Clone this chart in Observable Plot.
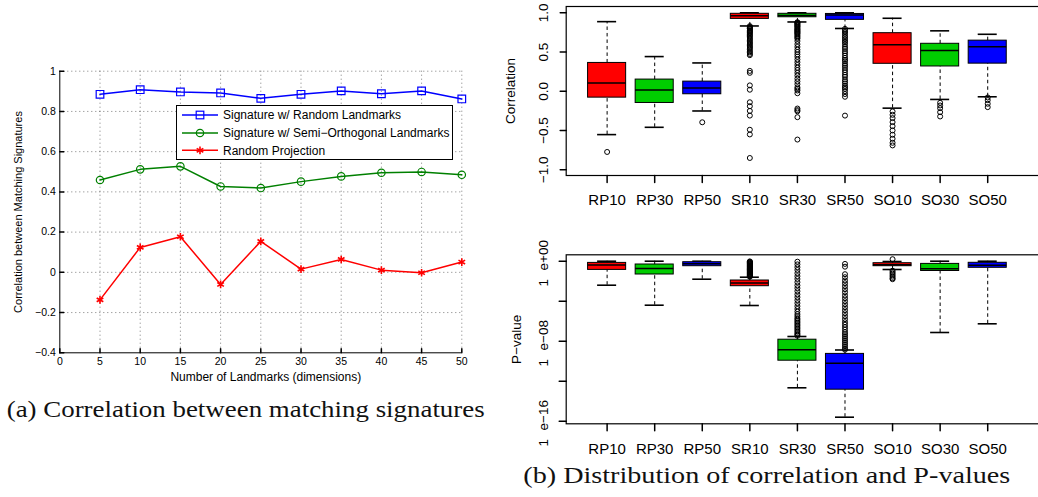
<!DOCTYPE html>
<html><head><meta charset="utf-8">
<script src="https://cdn.jsdelivr.net/npm/d3@7"></script>
<script src="https://cdn.jsdelivr.net/npm/@observablehq/plot@0.6"></script>
<style>
body{margin:0;background:#fff;}
#wrap{position:relative;width:1038px;height:497px;overflow:hidden;background:#fff;font-family:"Liberation Sans",Arial,sans-serif;}
#wrap svg{position:absolute;}
.lg{position:absolute;left:176px;top:104.7px;width:277px;height:55.3px;box-sizing:border-box;border:1.6px solid #000;background:#fff;}
</style></head><body><div id="wrap"></div>
<script>
// ---------- Panel (a) data ----------
const dims = [5, 10, 15, 20, 25, 30, 35, 40, 45, 50];
const sigRandom = [0.885, 0.908, 0.897, 0.892, 0.865, 0.885, 0.902, 0.888, 0.902, 0.862];
const sigSemiOrth = [0.459, 0.512, 0.527, 0.427, 0.419, 0.451, 0.477, 0.495, 0.499, 0.485];
const randomProj = [-0.137, 0.124, 0.177, -0.06, 0.154, 0.016, 0.064, 0.011, -0.002, 0.051];
const seriesNames = ["Signature w/ Random Landmarks", "Signature w/ Semi\u2212Orthogonal Landmarks", "Random Projection"];
const xTicksA = [0, 5, 10, 15, 20, 25, 30, 35, 40, 45, 50];
const yTicksA = [-0.4, -0.2, 0, 0.2, 0.4, 0.6, 0.8, 1];

// ---------- Panel (b) data ----------
const cats = ["RP10", "RP30", "RP50", "SR10", "SR30", "SR50", "SO10", "SO30", "SO50"];
const boxColors = ["#ff0000", "#00cd00", "#0000ff", "#ff0000", "#00cd00", "#0000ff", "#ff0000", "#00cd00", "#0000ff"];
// correlation box stats
const corrLo  = [-0.552, -0.459, -0.251, 0.832, 0.883, 0.80, -0.215, -0.104, -0.07];
const corrQ1  = [-0.081, -0.149, -0.038, 0.922, 0.943, 0.91, 0.35, 0.316, 0.352];
const corrMed = [0.106, 0.017, 0.042, 0.962, 0.966, 0.972, 0.592, 0.52, 0.566];
const corrQ3  = [0.361, 0.149, 0.123, 0.987, 0.987, 0.985, 0.74, 0.605, 0.645];
const corrHi  = [0.887, 0.442, 0.361, 1.0, 1.0, 1.0, 0.93, 0.77, 0.726];
const corrOut = [
  [-0.773],
  [],
  [-0.395],
  [0.83,0.82,0.81,0.80,0.795,0.78,0.77,0.76,0.75,0.74,0.725,0.71,0.70,0.68,0.665,0.65,0.63,0.615,0.60,0.58,0.565,0.55,0.53,0.51,0.495,0.475,0.46,0.26,0.235,0.075,0.02,-0.14,-0.19,-0.25,-0.31,-0.49,-0.55,-0.85],
  [0.88,0.875,0.865,0.855,0.845,0.835,0.825,0.815,0.80,0.79,0.78,0.77,0.76,0.75,0.74,0.73,0.715,0.70,0.685,0.67,0.64,0.60,0.565,0.53,0.50,0.47,0.44,0.405,0.37,0.335,0.30,0.27,0.235,0.20,0.16,0.125,0.09,0.05,0.03,0.01,-0.025,-0.22,-0.24,-0.255,-0.33,-0.615],
  [0.795,0.775,0.755,0.735,0.71,0.69,0.665,0.64,0.62,0.595,0.565,0.54,0.51,0.485,0.455,0.425,0.40,0.38,0.35,0.325,0.30,0.27,0.24,0.21,0.185,0.15,0.125,0.10,0.07,0.05,0.03,0.0,-0.035,-0.07,-0.31],
  [-0.257,-0.30,-0.342,-0.393,-0.444,-0.499,-0.554,-0.605,-0.656,-0.69],
  [-0.147,-0.181,-0.215,-0.266,-0.321],
  [-0.079,-0.113,-0.159,-0.202]
];
const corrTicks = [-1, -0.5, 0, 0.5, 1];
const corrTickLabels = ["\u22121.0", "\u22120.5", "0.0", "0.5", "1.0"];
// p-value box stats (log10 p)
const pLo  = [-2.4, -4.4, -1.8, -4.43, -12.66, -15.6, -0.83, -7.13, -6.26];
const pQ1  = [-0.87, -1.33, -0.5, -2.5, -9.95, -12.85, -0.5, -0.98, -0.66];
const pMed = [-0.37, -0.73, -0.25, -2.17, -8.86, -10.2, -0.35, -0.75, -0.4];
const pQ3  = [-0.17, -0.33, -0.1, -1.93, -7.85, -9.27, -0.2, -0.27, -0.16];
const pHi  = [0, 0, 0, -1.6, -7.53, -8.88, -0.03, 0, 0];
const pOut = [
  [], [], [],
  [-0.02,-0.06,-0.11,-0.15,-0.2,-0.25,-0.29,-0.34,-0.39,-0.43,-0.48,-0.53,-0.57,-0.62,-0.67,-0.71,-0.76,-0.81,-0.85,-0.9,-0.95,-0.99,-1.04,-1.09,-1.13,-1.18,-1.23,-1.27,-1.32,-1.37,-1.41,-1.46,-1.51,-1.55],
  [-0.05,-0.32,-0.6,-0.88,-1.2,-1.5,-1.78,-2.1,-2.42,-2.7,-3.0,-3.32,-3.6,-3.9,-4.2,-4.5,-4.78,-5.05,-5.3,-5.5,-5.7,-5.85,-6.0,-6.15,-6.3,-6.45,-6.6,-6.75,-6.9,-7.05,-7.2,-7.33,-7.45],
  [-0.27,-0.55,-1.3,-1.6,-1.92,-2.2,-2.5,-2.8,-3.1,-3.42,-3.7,-4.0,-4.3,-4.6,-4.9,-5.2,-5.5,-5.8,-6.1,-6.35,-6.6,-6.85,-7.1,-7.3,-7.5,-7.7,-7.9,-8.1,-8.3,-8.5,-8.7,-8.85],
  [0.2,-0.95,-1.1,-1.25,-1.4,-1.55,-1.7,-1.8],
  [], []
];
const pTicks = [0, -4, -8, -12, -16];
const pLabelTicks = [0, -8, -16];
const pLabelExp = ["e+00", "e\u221208", "e\u221216"];
const pLabelMant = ["1", "1", "1"];

const captionA = "(a) Correlation between matching signatures";
const captionB = "(b) Distribution of correlation and P-values";

const wrap = document.getElementById("wrap");
function place(el, left, top) { el.style.left = left + "px"; el.style.top = top + "px"; wrap.appendChild(el); }
const FONT = "Liberation Sans, Arial, Helvetica, sans-serif";
// plain line tick shape for vectors (no arrow head)
const tickShape = {draw(context, l) { context.moveTo(0, 0); context.lineTo(0, -l); }};

// ---------- Panel (a) ----------
const gridStyle = {stroke: "#000", strokeOpacity: 0.65, strokeWidth: 0.8, strokeDasharray: "1,3"};
const plotA = Plot.plot({
  width: 480, height: 400,
  marginLeft: 59.3, marginRight: 18.7, marginTop: 70.7, marginBottom: 47.7,
  x: {domain: [0, 50], axis: null},
  y: {domain: [-0.4, 1], axis: null},
  style: {fontFamily: FONT, background: "transparent", overflow: "visible", maxWidth: "none"},
  marks: [
    Plot.gridX(xTicksA.filter(t => t > 0), gridStyle),
    Plot.gridY(yTicksA.filter(t => t > -0.4), gridStyle),
    Plot.line(dims, {x: dims, y: sigRandom, stroke: "#0000ff", strokeWidth: 1.5}),
    Plot.line(dims, {x: dims, y: sigSemiOrth, stroke: "#008000", strokeWidth: 1.5}),
    Plot.line(dims, {x: dims, y: randomProj, stroke: "#ff0000", strokeWidth: 1.5}),
    Plot.dot(dims, {x: dims, y: sigRandom, symbol: "square", r: 4.3, stroke: "#0000ff", fill: "none", strokeWidth: 1.2}),
    Plot.dot(dims, {x: dims, y: sigSemiOrth, symbol: "circle", r: 3.7, stroke: "#008000", fill: "none", strokeWidth: 1.2}),
    Plot.dot(dims, {x: dims, y: randomProj, symbol: "asterisk", r: 3.6, stroke: "#ff0000", strokeWidth: 1.6}),
    Plot.ruleX([0], {stroke: "#000", strokeWidth: 1}),
    Plot.ruleY([-0.4], {stroke: "#000", strokeWidth: 1}),
    Plot.vector(yTicksA, {y: d => d, frameAnchor: "left", rotate: 90, length: 4, anchor: "start", shape: tickShape, stroke: "#000"}),
    Plot.vector(xTicksA, {x: d => d, frameAnchor: "bottom", rotate: 0, length: 4, anchor: "start", shape: tickShape, stroke: "#000"}),
    Plot.axisY({ticks: yTicksA, tickSize: 0, tickPadding: 4, label: null, fontSize: 10.5, tickFormat: d => d === 0 ? "0" : d3.format("")(d).replace("-", "\u2212")}),
    Plot.axisX({ticks: xTicksA, tickSize: 0, tickPadding: 4.5, label: null, fontSize: 10.5}),
    Plot.text(["Correlation between Matching Signatures"], {text: d => d, frameAnchor: "left", textAnchor: "middle", lineAnchor: "middle", dx: -41, rotate: -90, fontSize: 11}),
    Plot.text(["Number of Landmarks (dimensions)"], {text: d => d, frameAnchor: "bottom", textAnchor: "middle", lineAnchor: "middle", dy: 24.5, dx: 5, fontSize: 12})
  ]
});
place(plotA, 0, 0);

// legend
const lg = document.createElement("div");
lg.className = "lg";
const ls = d3.select(lg).append("svg").attr("width", 277).attr("height", 55).style("position", "absolute").style("left", "-1.6px").style("top", "-1.6px").style("overflow", "visible");
const lgColors = ["#0000ff", "#008000", "#ff0000"];
const lgY = [11, 29, 46.3];
seriesNames.forEach((name, i) => {
  const g = ls.append("g").attr("transform", `translate(0,${lgY[i]})`);
  g.append("line").attr("x1", 7).attr("x2", 43).attr("stroke", lgColors[i]).attr("stroke-width", 1.5);
  if (i === 0) g.append("rect").attr("x", 21.2).attr("y", -3.8).attr("width", 7.6).attr("height", 7.6).attr("fill", "none").attr("stroke", lgColors[i]).attr("stroke-width", 1.2);
  if (i === 1) g.append("circle").attr("cx", 25).attr("r", 3.7).attr("fill", "none").attr("stroke", lgColors[i]).attr("stroke-width", 1.2);
  if (i === 2) g.append("path").attr("transform", "translate(25,0)").attr("d", d3.symbol(d3.symbolAsterisk, Math.PI * 3.6 * 3.6)()).attr("fill", "none").attr("stroke", lgColors[i]).attr("stroke-width", 1.6);
  g.append("text").attr("x", 48).attr("dy", "0.35em").attr("font-size", 12).attr("font-family", FONT).text(name);
});
wrap.appendChild(lg);

// ---------- Panel (b) helpers ----------
const idx = d3.range(cats.length);
const pos = idx.map(i => i + 1);
function boxMarks(lo, q1, med, q3, hi, out) {
  const outs = out.flatMap((arr, i) => arr.map(v => ({p: pos[i], v})));
  const dash = {stroke: "#000", strokeWidth: 1, strokeDasharray: "3.5,3"};
  return [
    Plot.ruleX(idx, {x: i => pos[i], y1: i => q3[i], y2: i => hi[i], ...dash}),
    Plot.ruleX(idx, {x: i => pos[i], y1: i => lo[i], y2: i => q1[i], ...dash}),
    Plot.ruleY(idx, {y: i => hi[i], x1: i => pos[i] - 0.2, x2: i => pos[i] + 0.2, stroke: "#000", strokeWidth: 1.6}),
    Plot.ruleY(idx, {y: i => lo[i], x1: i => pos[i] - 0.2, x2: i => pos[i] + 0.2, stroke: "#000", strokeWidth: 1.6}),
    Plot.rect(idx, {x1: i => pos[i] - 0.4, x2: i => pos[i] + 0.4, y1: i => q1[i], y2: i => q3[i], fill: i => boxColors[i], stroke: "#000", strokeWidth: 1}),
    Plot.ruleY(idx, {y: i => med[i], x1: i => pos[i] - 0.4, x2: i => pos[i] + 0.4, stroke: "#000", strokeWidth: 1.5}),
    Plot.dot(outs, {x: "p", y: "v", r: 2.5, stroke: "#000", fill: "none", strokeWidth: 1}),
    Plot.frame({stroke: "#000", strokeWidth: 1.2}),
    Plot.vector(idx, {x: i => pos[i], frameAnchor: "bottom", rotate: 180, length: 7, anchor: "start", shape: tickShape, stroke: "#000"}),
  ];
}

// top box plot (correlation)
const plotB1 = Plot.plot({
  width: 542, height: 215,
  marginLeft: 65.7, marginRight: 0.55, marginTop: 6, marginBottom: 40,
  x: {domain: [0.14, 10.14], axis: null},
  y: {domain: [-1.073, 1.080], axis: null},
  style: {fontFamily: FONT, background: "transparent", overflow: "visible", maxWidth: "none"},
  marks: [
    ...boxMarks(corrLo, corrQ1, corrMed, corrQ3, corrHi, corrOut),
    Plot.vector(corrTicks, {y: d => d, frameAnchor: "left", rotate: -90, length: 6, anchor: "start", shape: tickShape, stroke: "#000"}),
    Plot.text(corrTicks, {y: d => d, text: (d, i) => corrTickLabels[i], frameAnchor: "left", textAnchor: "middle", lineAnchor: "middle", dx: -22.5, rotate: -90, fontSize: 13.5}),
    Plot.text(idx, {x: i => pos[i], text: i => cats[i], frameAnchor: "bottom", textAnchor: "middle", lineAnchor: "middle", dy: 25, fontSize: 15}),
    Plot.text(["Correlation"], {text: d => d, frameAnchor: "left", textAnchor: "middle", lineAnchor: "middle", dx: -55.7, rotate: -90, fontSize: 13.5})
  ]
});
place(plotB1, 500, 0);

// bottom box plot (P-values, log10)
const plotB2 = Plot.plot({
  width: 542, height: 240,
  marginLeft: 65.7, marginRight: 0.55, marginTop: 24.3, marginBottom: 46.7,
  x: {domain: [0.14, 10.14], axis: null},
  y: {domain: [-16.26, 0.64], axis: null},
  style: {fontFamily: FONT, background: "transparent", overflow: "visible", maxWidth: "none"},
  marks: [
    ...boxMarks(pLo, pQ1, pMed, pQ3, pHi, pOut),
    Plot.vector(pTicks, {y: d => d, frameAnchor: "left", rotate: -90, length: 7, anchor: "start", shape: tickShape, stroke: "#000"}),
    Plot.text(pLabelTicks, {y: d => d, text: (d, i) => pLabelExp[i], frameAnchor: "left", textAnchor: "middle", lineAnchor: "middle", dx: -22.5, dy: -6, rotate: -90, fontSize: 13.5}),
    Plot.text(pLabelTicks, {y: d => d, text: (d, i) => pLabelMant[i], frameAnchor: "left", textAnchor: "middle", lineAnchor: "middle", dx: -22.5, dy: 21.5, rotate: -90, fontSize: 13.5}),
    Plot.text(idx, {x: i => pos[i], text: i => cats[i], frameAnchor: "bottom", textAnchor: "middle", lineAnchor: "middle", dy: 25.4, fontSize: 15}),
    Plot.text(["P\u2212value"], {text: d => d, frameAnchor: "left", textAnchor: "middle", lineAnchor: "middle", dx: -49.7, rotate: -90, fontSize: 13.5})
  ]
});
place(plotB2, 500, 230);

// captions
const cap = d3.create("svg").attr("width", 1038).attr("height", 497).style("left", "0px").style("top", "0px").style("pointer-events", "none");
cap.append("text").attr("x", 6.7).attr("y", 416.7).attr("font-family", "Liberation Serif, Times New Roman, serif").attr("font-size", 22.5)
  .attr("textLength", 478).attr("lengthAdjust", "spacingAndGlyphs").attr("fill", "#111").text(captionA);
cap.append("text").attr("x", 523.3).attr("y", 483.3).attr("font-family", "Liberation Serif, Times New Roman, serif").attr("font-size", 22.5)
  .attr("textLength", 487).attr("lengthAdjust", "spacingAndGlyphs").attr("fill", "#111").text(captionB);
wrap.appendChild(cap.node());
</script>
</body></html>
